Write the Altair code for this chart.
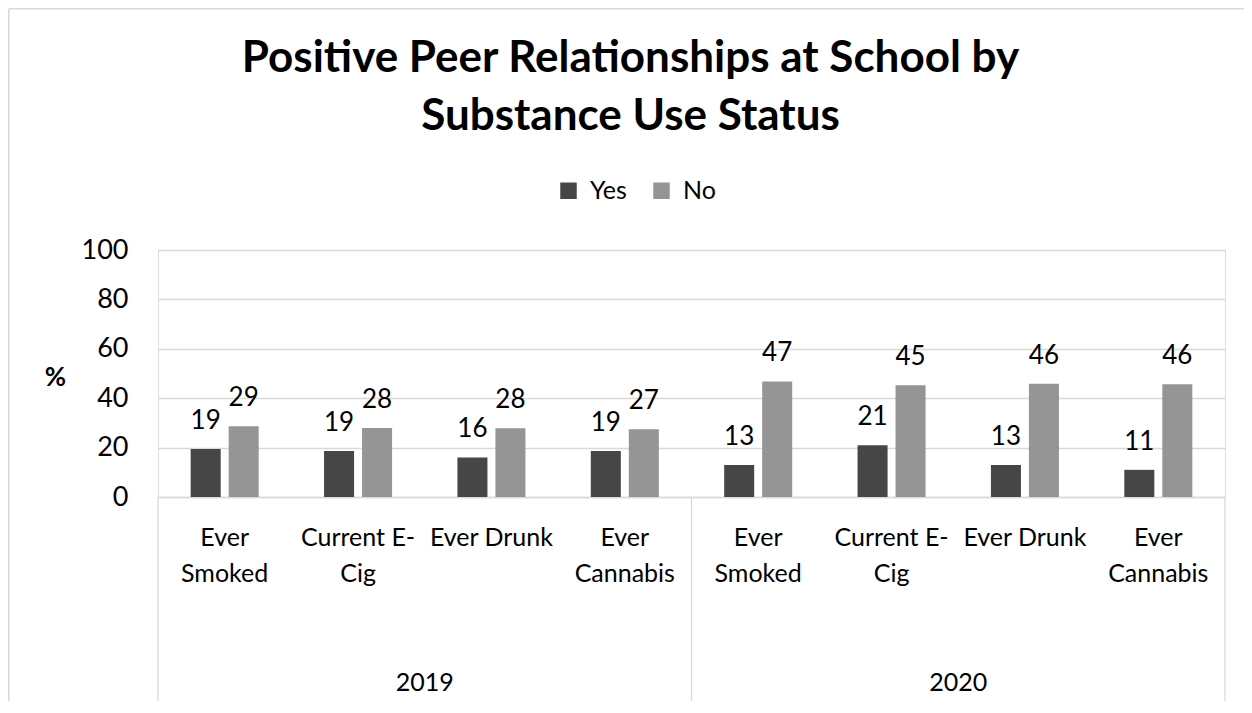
import json
import altair as alt
import pandas as pd

# ---- data ----
title_lines = ["Positive Peer Relationships at School by", "Substance Use Status"]
years = ["2019", "2020"]
categories = ["Ever Smoked", "Current E-Cig", "Ever Drunk", "Ever Cannabis"]
category_labels = [["Ever", "Smoked"], ["Current E-", "Cig"], ["Ever Drunk"], ["Ever", "Cannabis"]]
series = ["Yes", "No"]
yes_2019 = [19.4, 18.6, 16.0, 18.6]
no_2019 = [28.6, 27.9, 27.8, 27.4]
yes_2020 = [13.0, 21.0, 13.0, 11.0]
no_2020 = [46.8, 45.2, 45.9, 45.6]
y_ticks = [0, 20, 40, 60, 80, 100]
colors = ["#464646", "#959595"]

values = {("2019", "Yes"): yes_2019, ("2019", "No"): no_2019,
          ("2020", "Yes"): yes_2020, ("2020", "No"): no_2020}

rows = []
x_keys = []
for y in years:
    for ci, c in enumerate(categories):
        key = f"{y}|{c}"
        x_keys.append(key)
        for s in series:
            rows.append({"key": key, "year": y, "category": c, "series": s,
                         "value": values[(y, s)][ci]})
df = pd.DataFrame(rows)

n_cat = len(years) * len(categories)
edges = pd.DataFrame({"pos": [i * len(categories) for i in range(len(years) + 1)]})
year_df = pd.DataFrame({"year": years,
                        "mid": [i * len(categories) + len(categories) / 2 for i in range(len(years))]})

W, H = 1067, 247
FONT = "Lato"

label_expr = (f"{json.dumps(category_labels)}"
              f"[indexof({json.dumps(categories)}, split(datum.value, '|')[1])]")

x_scale = alt.Scale(paddingInner=0, paddingOuter=0)
xoff = alt.XOffset("series:N", sort=series,
                   scale=alt.Scale(paddingInner=0.21, paddingOuter=0.86))
y_scale = alt.Scale(domain=[0, 100], nice=False)

bars = alt.Chart(df).mark_bar().encode(
    x=alt.X("key:N", sort=x_keys, scale=x_scale,
            axis=alt.Axis(title=None, labelExpr=label_expr, labelAngle=0, ticks=False,
                          domain=True, domainColor="#d9d9d9", domainWidth=1.3,
                          labelPadding=28, labelFontSize=25, labelLineHeight=36,
                          labelBaseline="top", labelColor="black", labelFont=FONT,
                          grid=False, labelLimit=0, labelOverlap=False)),
    xOffset=xoff,
    y=alt.Y("value:Q", scale=y_scale,
            axis=alt.Axis(values=y_ticks, title="%", titleAngle=0, titleAlign="center",
                          titleBaseline="middle", titleX=-103, titleY=127,
                          titleFont=FONT, titleFontSize=26, titleFontWeight="bold",
                          titleColor="black", domain=False, ticks=False, grid=True,
                          gridColor="#d9d9d9", gridWidth=1.3, labelPadding=30,
                          labelFontSize=27, labelFont=FONT, labelColor="black")),
    color=alt.Color("series:N", sort=series,
                    scale=alt.Scale(domain=series, range=colors),
                    legend=alt.Legend(title=None, orient="none", legendX=398, legendY=-72,
                                      direction="horizontal", symbolType="square",
                                      symbolSize=272, symbolStrokeWidth=0,
                                      labelFontSize=25, labelFont=FONT, labelColor="black",
                                      labelOffset=9, columnPadding=22)),
)

labels = alt.Chart(df).mark_text(dy=-20, baseline="alphabetic", fontSize=26,
                                 font=FONT, color="black").encode(
    x=alt.X("key:N", sort=x_keys, scale=x_scale, axis=None),
    xOffset=xoff,
    y=alt.Y("value:Q", scale=y_scale),
    text=alt.Text("value:Q", format=".0f"),
)

q_scale = alt.Scale(domain=[0, n_cat], nice=False, zero=False)
rules = alt.Chart(edges).mark_rule(color="#d9d9d9", strokeWidth=1.3).encode(
    x=alt.X("pos:Q", scale=q_scale, axis=None),
    y=alt.value(H),
    y2=alt.value(H + 205),
)

year_text = alt.Chart(year_df).mark_text(fontSize=25, font=FONT, color="black",
                                         baseline="middle").encode(
    x=alt.X("mid:Q", scale=q_scale, axis=None),
    y=alt.value(H + 186),
    text="year:N",
)

title_text = alt.Chart(pd.DataFrame({"t": [0]})).mark_text(
    text=title_lines, font=FONT, fontSize=44, fontWeight="bold", color="black",
    align="center", baseline="alphabetic", lineHeight=58.6).encode(
    x=alt.value(472.5), y=alt.value(-178.3),
)

frame_df = pd.DataFrame({"b": [0]})
border_top = alt.Chart(frame_df).mark_rule(color="#d9d9d9", strokeWidth=1.5).encode(
    x=alt.value(-149.2), x2=alt.value(W + 300), y=alt.value(-241.2),
)
border_left = alt.Chart(frame_df).mark_rule(color="#d9d9d9", strokeWidth=1.5).encode(
    x=alt.value(-149.2), y=alt.value(-241.2), y2=alt.value(H + 400),
)

chart = alt.layer(border_top, border_left, bars, labels, rules, year_text,
                  title_text).resolve_scale(
    x="independent"
).properties(
    width=W, height=H,
    autosize=alt.AutoSizeParams(type="none"),
    padding={"left": 150, "top": 242, "right": 19, "bottom": 204},
).configure_view(stroke=None).configure(background="white")

chart.save("out.html", embed_options={"renderer": "svg", "actions": False})
